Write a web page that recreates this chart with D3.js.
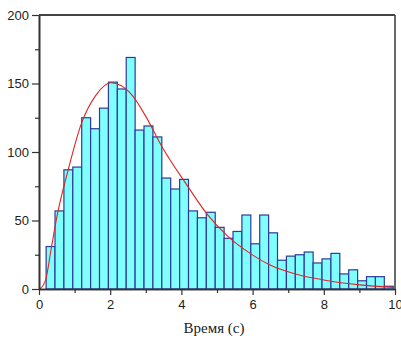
<!DOCTYPE html>
<html>
<head>
<meta charset="utf-8">
<script src="https://cdn.jsdelivr.net/npm/d3@7"></script>
<style>
  html, body { margin: 0; padding: 0; background: #fff; }
  svg { display: block; }
</style>
</head>
<body>
<div id="chart"></div>
<script>
// histogram: 39 bins of 0.25 s starting at 0.2 s
const binStart = 0.2;
const binWidth = 0.25;
const counts = [31, 57, 87, 89, 125, 117, 132, 151, 146, 169, 116, 119, 111, 81, 73, 80,
  57, 52, 56, 45, 37, 42, 54, 33, 54, 41, 21, 24, 25, 27, 19, 22, 26, 11, 14, 6, 9, 9, 2];

// fitted curve
const fitX = [0.03, 0.19, 0.34, 0.52, 0.81, 1.18, 1.6, 2.02, 2.3, 2.63, 3.0, 3.45, 4.15, 4.71, 5.32, 5.93, 6.49, 7.2, 8.0, 9.0, 9.95];
const fitY = [0, 7, 29, 55, 86, 120, 141.5, 150.5, 148.5, 141, 126, 104, 76, 55, 38, 26, 17.5, 11, 6.6, 3, 1.2];

const xMajor = [0, 2, 4, 6, 8, 10];
const xMinor = [1, 3, 5, 7, 9];
const yMajor = [0, 50, 100, 150, 200];
const yMinor = [25, 75, 125, 175];
const xTitle = "Время (с)";

const W = 401, H = 338;
const margin = { top: 15, right: 6, bottom: 49, left: 39 };

const svg = d3.select("#chart").append("svg")
  .attr("width", W).attr("height", H);

const x = d3.scaleLinear().domain([0, 10]).range([margin.left, W - margin.right]);
const y = d3.scaleLinear().domain([0, 200]).range([H - margin.bottom, margin.top]);

svg.append("defs").append("clipPath").attr("id", "plot")
  .append("rect")
  .attr("x", x(0)).attr("y", y(200))
  .attr("width", x(10) - x(0)).attr("height", y(0) - y(200));

// bars
svg.append("g")
  .selectAll("rect")
  .data(counts)
  .join("rect")
  .attr("x", (d, i) => x(binStart + i * binWidth))
  .attr("width", (d, i) => x(binStart + (i + 1) * binWidth) - x(binStart + i * binWidth))
  .attr("y", d => y(d))
  .attr("height", d => y(0) - y(d))
  .attr("fill", "#80ffff")
  .attr("stroke", "#2e3a99")
  .attr("stroke-width", 1.2);

// fit line
const line = d3.line()
  .x((d, i) => x(fitX[i]))
  .y(d => y(d))
  .curve(d3.curveMonotoneX);

svg.append("path")
  .datum(fitY)
  .attr("clip-path", "url(#plot)")
  .attr("d", line)
  .attr("fill", "none")
  .attr("stroke", "#e02424")
  .attr("stroke-width", 1.1);

// axes
const tickFont = "'Liberation Sans', Arial, sans-serif";

const xAxis = svg.append("g")
  .attr("transform", `translate(0,${y(0)})`)
  .call(d3.axisBottom(x).tickValues(xMajor).tickSize(6).tickPadding(5).tickSizeOuter(0));
svg.append("g")
  .attr("transform", `translate(0,${y(0)})`)
  .call(d3.axisBottom(x).tickValues(xMinor).tickSize(4).tickFormat("").tickSizeOuter(0));

const yAxis = svg.append("g")
  .attr("transform", `translate(${x(0)},0)`)
  .call(d3.axisLeft(y).tickValues(yMajor).tickSize(7).tickPadding(3).tickSizeOuter(0));
svg.append("g")
  .attr("transform", `translate(${x(0)},0)`)
  .call(d3.axisLeft(y).tickValues(yMinor).tickSize(4).tickFormat("").tickSizeOuter(0));

svg.selectAll(".domain").attr("stroke", "#333").attr("stroke-width", 1.6);
svg.selectAll(".tick line").attr("stroke", "#333").attr("stroke-width", 1.2);
svg.selectAll(".tick text")
  .attr("fill", "#222")
  .style("font-family", tickFont)
  .style("font-size", "13px");

// top and right frame
svg.append("line")
  .attr("x1", x(0)).attr("x2", x(10))
  .attr("y1", y(200)).attr("y2", y(200))
  .attr("stroke", "#444").attr("stroke-width", 1.8);
svg.append("line")
  .attr("x1", x(10)).attr("x2", x(10))
  .attr("y1", y(200)).attr("y2", y(0))
  .attr("stroke", "#444").attr("stroke-width", 1.6);

// axis title
svg.append("text")
  .attr("x", (x(0) + x(10)) / 2 - 3)
  .attr("y", 333)
  .attr("text-anchor", "middle")
  .style("font-family", "'Liberation Serif', 'Times New Roman', serif")
  .style("font-size", "15px")
  .attr("fill", "#222")
  .text(xTitle);
</script>
</body>
</html>
